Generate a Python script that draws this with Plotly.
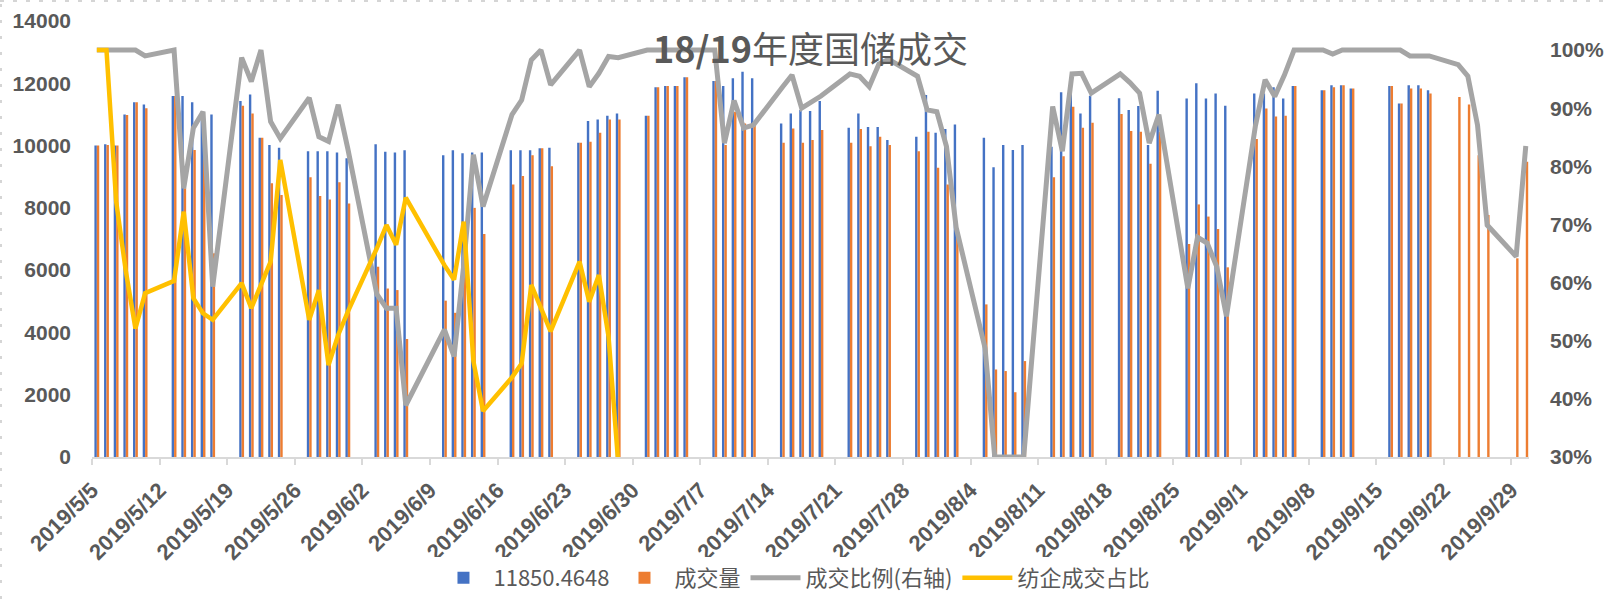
import plotly.graph_objects as go

# ---------------- data ----------------
dates = [
    "2019-05-05", "2019-05-06", "2019-05-07", "2019-05-08", "2019-05-09", "2019-05-10",
    "2019-05-13", "2019-05-14", "2019-05-15", "2019-05-16", "2019-05-17",
    "2019-05-20", "2019-05-21", "2019-05-22", "2019-05-23", "2019-05-24",
    "2019-05-27", "2019-05-28", "2019-05-29", "2019-05-30", "2019-05-31",
    "2019-06-03", "2019-06-04", "2019-06-05", "2019-06-06",
    "2019-06-10", "2019-06-11", "2019-06-12", "2019-06-13", "2019-06-14",
    "2019-06-17", "2019-06-18", "2019-06-19", "2019-06-20", "2019-06-21",
    "2019-06-24", "2019-06-25", "2019-06-26", "2019-06-27", "2019-06-28",
    "2019-07-01", "2019-07-02", "2019-07-03", "2019-07-04", "2019-07-05",
    "2019-07-08", "2019-07-09", "2019-07-10", "2019-07-11", "2019-07-12",
    "2019-07-15", "2019-07-16", "2019-07-17", "2019-07-18", "2019-07-19",
    "2019-07-22", "2019-07-23", "2019-07-24", "2019-07-25", "2019-07-26",
    "2019-07-29", "2019-07-30", "2019-07-31", "2019-08-01", "2019-08-02",
    "2019-08-05", "2019-08-06", "2019-08-07", "2019-08-08", "2019-08-09",
    "2019-08-12", "2019-08-13", "2019-08-14", "2019-08-15", "2019-08-16",
    "2019-08-19", "2019-08-20", "2019-08-21", "2019-08-22", "2019-08-23",
    "2019-08-26", "2019-08-27", "2019-08-28", "2019-08-29", "2019-08-30",
    "2019-09-02", "2019-09-03", "2019-09-04", "2019-09-05", "2019-09-06",
    "2019-09-09", "2019-09-10", "2019-09-11", "2019-09-12",
    "2019-09-16", "2019-09-17", "2019-09-18", "2019-09-19", "2019-09-20",
    "2019-09-23", "2019-09-24", "2019-09-25", "2019-09-26",
    "2019-09-29", "2019-09-30",
]

# blue series (legend header "11850.4648")
supply = [
    10000, 10040, 10000, 11000, 11390, 11320,
    11590, 11590, 11390, 11100, 11000,
    11430, 11640, 10250, 10020, 9930,
    9820, 9820, 9820, 9780, 9590,
    10040, 9800, 9780, 9850,
    9690, 9850, 9750, 9780, 9780,
    9850, 9850, 9850, 9910, 9930,
    10090, 10790, 10840, 10960, 11030,
    10960, 11870, 11910, 11910, 12190,
    12070, 11910, 12160, 12370, 12160,
    10710, 11030, 11140, 11110, 11430,
    10570, 11030, 10600, 10600, 10180,
    10280, 11620, 10410, 10530, 10680,
    10250, 9300, 10020, 9860, 10020,
    9960, 11710, 11700, 11030, 11600,
    11520, 11140, 11270, 10020, 11760,
    11510, 12000, 11510, 11670, 11280,
    11670, 11670, 11870, 11510, 11910,
    11780, 11940, 11940, 11830,
    11910, 11350, 11940, 11940, 11780,
    None, None, None, None,
    None, None,
]

# orange series 成交量
volume = [
    10000, 10020, 10000, 10980, 11390, 11200,
    11590, 8630, 9860, 9900, 6540,
    11280, 11030, 10250, 8790, 8410,
    8980, 8380, 8270, 8820, 8140,
    6110, 5410, 5360, 3790,
    5020, 4630, 6060, 8000, 7160,
    8750, 9020, 9690, 9910, 9340,
    10090, 10120, 10410, 10840, 10840,
    10960, 11870, 11910, 11910, 12190,
    12070, 10020, 11090, 10710, 10660,
    10090, 10550, 10090, 10180, 10500,
    10090, 10530, 9980, 10280, 10020,
    9820, 10440, 9290, 8750, 7200,
    4900, 2810, 2760, 2080, 3080,
    8980, 9660, 11250, 10570, 10730,
    11010, 10470, 10440, 9420, 10440,
    6840, 8110, 7720, 7320, 6090,
    10210, 11190, 10930, 10960, 11910,
    11780, 11870, 11940, 11830,
    11910, 11350, 11830, 11830, 11670,
    11560, 11320, 9690, 7770,
    6380, 9480,
]

# grey line 成交比例(右轴)
deal_ratio = [
    1.00, 1.00, 1.00, 1.00, 1.00, 0.99,
    1.00, 0.762, 0.866, 0.894, 0.593,
    0.987, 0.946, 1.00, 0.877, 0.848,
    0.918, 0.851, 0.843, 0.906, 0.83,
    0.58, 0.556, 0.556, 0.389,
    0.519, 0.473, 0.63, 0.82, 0.731,
    0.889, 0.914, 0.983, 1.00, 0.94,
    1.00, 0.937, 0.96, 0.989, 0.987,
    1.00, 1.00, 1.00, 1.00, 1.00,
    1.00, 0.84, 0.913, 0.866, 0.871,
    0.936, 0.957, 0.90, 0.91, 0.921,
    0.959, 0.955, 0.937, 0.976, 0.984,
    0.955, 0.897, 0.894, 0.834, 0.695,
    0.487, 0.30, 0.30, 0.30, 0.30,
    0.903, 0.826, 0.959, 0.96, 0.926,
    0.959, 0.944, 0.926, 0.84, 0.889,
    0.59, 0.678, 0.668, 0.627, 0.542,
    0.87, 0.949, 0.92, 0.957, 1.00,
    1.00, 0.993, 1.00, 1.00,
    1.00, 1.00, 0.99, 0.99, 0.99,
    0.975, 0.955, 0.871, 0.699,
    0.645, 0.835,
]

# yellow line 纺企成交占比
mill_ratio = [
    1.00, 1.00, 0.74, 0.62, 0.521, 0.582,
    0.603, 0.722, 0.573, 0.547, 0.536,
    0.599, 0.556, 0.596, 0.636, 0.811,
    0.536, 0.587, 0.458, 0.51, 0.55,
    0.659, 0.699, 0.665, 0.746,
    0.63, 0.605, 0.705, 0.465, 0.379,
    0.437, 0.461, 0.596, 0.556, 0.516,
    0.636, 0.567, 0.613, 0.507, 0.29,
] + [None] * 65

tick_dates = [
    "2019-05-05", "2019-05-12", "2019-05-19", "2019-05-26", "2019-06-02", "2019-06-09",
    "2019-06-16", "2019-06-23", "2019-06-30", "2019-07-07", "2019-07-14", "2019-07-21",
    "2019-07-28", "2019-08-04", "2019-08-11", "2019-08-18", "2019-08-25", "2019-09-01",
    "2019-09-08", "2019-09-15", "2019-09-22", "2019-09-29",
]
tick_text = [
    "2019/5/5", "2019/5/12", "2019/5/19", "2019/5/26", "2019/6/2", "2019/6/9",
    "2019/6/16", "2019/6/23", "2019/6/30", "2019/7/7", "2019/7/14", "2019/7/21",
    "2019/7/28", "2019/8/4", "2019/8/11", "2019/8/18", "2019/8/25", "2019/9/1",
    "2019/9/8", "2019/9/15", "2019/9/22", "2019/9/29",
]
pct_ticks = [0.3, 0.4, 0.5, 0.6, 0.7, 0.8, 0.9, 1.0]

# ---------------- figure ----------------
DAY_MS = 86400000
TXT = "#595959"
FONT = "Liberation Sans, Arial, sans-serif"
CJK = "Noto Sans CJK SC, Liberation Sans, sans-serif"

fig = go.Figure()
fig.add_trace(go.Bar(
    x=dates, y=supply, name="11850.4648",
    marker=dict(color="#4472C4", line=dict(width=0)),
    xperiod=DAY_MS, xperiodalignment="middle",
))
fig.add_trace(go.Bar(
    x=dates, y=volume, name="成交量",
    marker=dict(color="#ED7D31", line=dict(width=0)),
    xperiod=DAY_MS, xperiodalignment="middle",
))
fig.add_trace(go.Scatter(
    x=dates, y=deal_ratio, name="成交比例(右轴)", mode="lines", yaxis="y2",
    line=dict(color="#A5A5A5", width=5),
    xperiod=DAY_MS, xperiodalignment="middle",
))
fig.add_trace(go.Scatter(
    x=dates, y=mill_ratio, name="纺企成交占比", mode="lines", yaxis="y2",
    line=dict(color="#FFC000", width=4.5), connectgaps=False,
    xperiod=DAY_MS, xperiodalignment="middle",
))

fig.update_layout(
    width=1609, height=599,
    margin=dict(l=92, r=80, t=21, b=142, autoexpand=False),
    paper_bgcolor="white", plot_bgcolor="white",
    barmode="group", bargap=0.5, bargroupgap=0,
    font=dict(family=CJK, color=TXT),
    title=dict(
        text="<b>18/19</b>年度国储成交",
        font=dict(family=CJK, size=36, color=TXT),
        x=0.5, xref="paper", xanchor="center",
        y=1 - 50 / 599, yref="container", yanchor="middle",
    ),
    xaxis=dict(
        type="date", automargin=False,
        range=["2019-05-05", "2019-09-30 20:00"],
        tickvals=tick_dates, ticktext=tick_text, tickangle=-45,
        tickfont=dict(family=FONT, size=22, color=TXT, weight="bold"),
        ticks="outside", ticklen=6, tickcolor="#D9D9D9", tickwidth=1.5,
        showline=True, linecolor="#D9D9D9", linewidth=1.5,
        showgrid=False, zeroline=False, ticklabelstandoff=4,
    ),
    yaxis=dict(
        automargin=False,
        range=[0, 14000], dtick=2000, tickformat="d",
        tickfont=dict(family=FONT, size=21, color=TXT, weight="bold"),
        showgrid=False, zeroline=False, showline=False, ticks="",
        ticklabelstandoff=20,
    ),
    yaxis2=dict(
        automargin=False,
        overlaying="y", side="right", range=[0.3, 1.05],
        tickvals=pct_ticks, tickformat=".0%",
        tickfont=dict(family=FONT, size=21, color=TXT, weight="bold"),
        showgrid=False, zeroline=False, showline=False, ticks="",
        ticklabelstandoff=20,
    ),
    legend=dict(
        orientation="h", x=0.4885, xanchor="center",
        yref="container", y=0, yanchor="bottom",
        font=dict(family=CJK, size=22, color=TXT),
        traceorder="normal", itemwidth=50,
    ),
    showlegend=True,
)

# dashed frame marks at the top and left edge of the picture
fig.add_shape(type="line", xref="paper", yref="paper",
              x0=-92 / 1437, x1=(1609 - 92) / 1437, y0=(457 - 1) / 436, y1=(457 - 1) / 436,
              line=dict(color="#C8C8C8", width=1.5, dash="4px,9px"))
fig.add_shape(type="line", xref="paper", yref="paper",
              x0=(1 - 92) / 1437, x1=(1 - 92) / 1437, y0=(457 - 599) / 436, y1=(457 - 1) / 436,
              line=dict(color="#C8C8C8", width=1.5, dash="3px,13px"))

fig.write_html("out.html", config={"displayModeBar": False},
               post_script="document.body.style.margin='0';")
